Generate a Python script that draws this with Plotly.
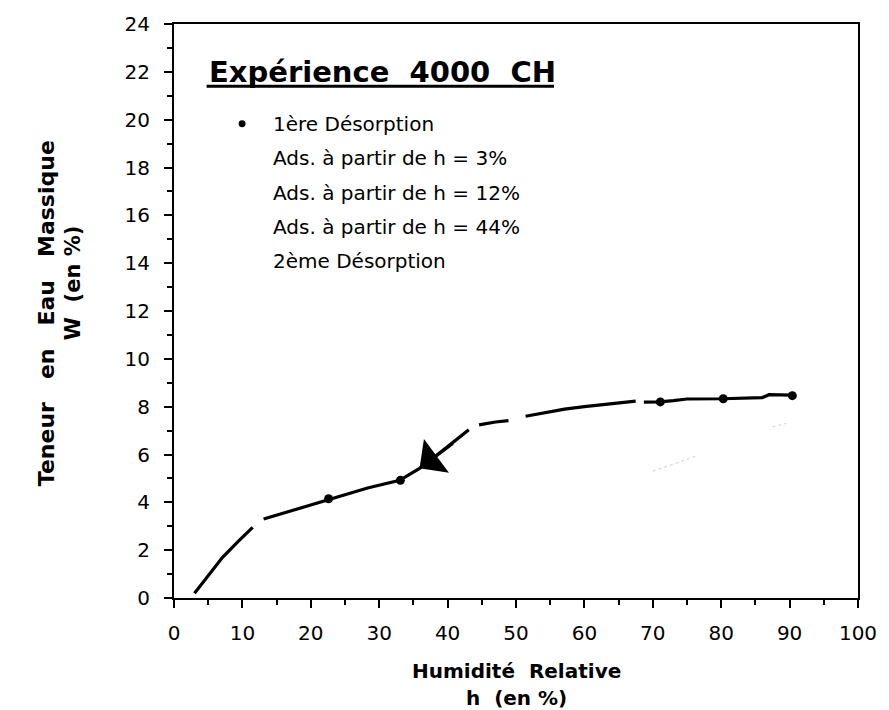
import plotly.graph_objects as go

# Sorption isotherm, experiment 4000 CH: relative humidity h (%) vs. mass water content W (%)
# First desorption curve (None marks the breaks in the traced line)
curve_h = [3.0, 5.0, 7.1, 9.5, 11.5, None,
           13.1, 15.5, 18.6, 22.8, 25.5, 28.3, 33.0, 35.9, 39.0, 43.1, None,
           44.6, 47.0, 48.9, None,
           51.4, 54.0, 57.1, 60.0, 63.3, 67.5, None,
           68.7, 71.0, 73.0, 75.0, 80.2, 86.0, 87.0, 90.3]
curve_w = [0.2, 0.95, 1.7, 2.4, 2.95, None,
           3.3, 3.5, 3.77, 4.14, 4.35, 4.6, 4.92, 5.42, 6.1, 7.03, None,
           7.24, 7.36, 7.42, None,
           7.6, 7.75, 7.9, 8.0, 8.1, 8.23, None,
           8.19, 8.2, 8.25, 8.32, 8.33, 8.38, 8.5, 8.48]

# Measured points of the first desorption
meas_h = [22.6, 33.1, 71.1, 80.3, 90.4]
meas_w = [4.15, 4.92, 8.2, 8.33, 8.46]

# Faint remains of an adsorption branch
ads_h = [70.0, 76.5, None, 87.5, 89.5]
ads_w = [5.3, 5.95, None, 7.15, 7.3]

# Direction arrow on the desorption curve (tail, head)
arrow_tail = (41.0, 6.5)
arrow_head = (35.9, 5.42)

x_ticks = [0, 10, 20, 30, 40, 50, 60, 70, 80, 90, 100]
y_ticks = [0, 2, 4, 6, 8, 10, 12, 14, 16, 18, 20, 22, 24]

legend_labels = ["1ère Désorption",
                 "Ads. à partir de h = 3%",
                 "Ads. à partir de h = 12%",
                 "Ads. à partir de h = 44%",
                 "2ème Désorption"]

NB2 = "\u00a0\u00a0"
NB3 = "\u00a0\u00a0\u00a0"
title_text = "Expérience" + NB2 + "4000" + NB2 + "CH"

FONT = "DejaVu Sans, Liberation Sans, Arial, sans-serif"
W, H = 889, 710
L, R, T, B = 174, 22, 17, 112
PW, PH = W - L - R, H - T - B


def px(x):
    return (x - L) / PW


def py(y):
    return (H - B - y) / PH


fig = go.Figure()

fig.add_trace(go.Scatter(x=ads_h, y=ads_w, mode="lines",
                         line=dict(color="#cfcfcf", width=1, dash="dot"),
                         hoverinfo="skip", showlegend=False))
fig.add_trace(go.Scatter(x=curve_h, y=curve_w, mode="lines",
                         line=dict(color="black", width=3.2),
                         connectgaps=False, showlegend=False))
fig.add_trace(go.Scatter(x=meas_h, y=meas_w, mode="markers",
                         marker=dict(color="black", size=9),
                         name=legend_labels[0], showlegend=False))

annotations = []
# direction arrow
annotations.append(dict(x=arrow_head[0], y=arrow_head[1], ax=arrow_tail[0], ay=arrow_tail[1],
                        xref="x", yref="y", axref="x", ayref="y", text="",
                        showarrow=True, arrowhead=1, arrowsize=2.8, arrowwidth=2.5,
                        arrowcolor="black"))
# title
annotations.append(dict(x=px(207), y=py(66), xref="paper", yref="paper",
                        xanchor="left", yanchor="middle", showarrow=False,
                        text="<b>" + title_text + "</b>",
                        font=dict(family=FONT, size=29, color="black")))
# legend text
rows = [118, 153, 188, 222, 257]
for lab, r in zip(legend_labels, rows):
    annotations.append(dict(x=px(272), y=py(r), xref="paper", yref="paper",
                            xanchor="left", yanchor="middle", showarrow=False,
                            text=lab, font=dict(family=FONT, size=20, color="black")))
# axis titles
annotations.append(dict(x=px(521), y=py(672), xref="paper", yref="paper",
                        xanchor="center", yanchor="middle", showarrow=False,
                        text="<b>Humidité" + NB2 + "Relative</b>",
                        font=dict(family=FONT, size=20, color="black")))
annotations.append(dict(x=px(521), y=py(699), xref="paper", yref="paper",
                        xanchor="center", yanchor="middle", showarrow=False,
                        text="<b>h" + NB2 + "(en %)</b>",
                        font=dict(family=FONT, size=20, color="black")))
annotations.append(dict(x=px(45), y=py(310), xref="paper", yref="paper",
                        xanchor="center", yanchor="middle", showarrow=False, textangle=-90,
                        text="<b>Teneur" + NB3 + "en" + NB3 + "Eau" + NB3 + "Massique</b>",
                        font=dict(family=FONT, size=22, color="black")))
annotations.append(dict(x=px(72), y=py(279), xref="paper", yref="paper",
                        xanchor="center", yanchor="middle", showarrow=False, textangle=-90,
                        text="<b>W" + NB2 + "(en %)</b>",
                        font=dict(family=FONT, size=21, color="black")))

shapes = [
    # title underline
    dict(type="line", xref="paper", yref="paper", x0=px(207), x1=px(559),
         y0=py(80), y1=py(80), line=dict(color="black", width=3)),
    # legend bullet
    dict(type="circle", xref="paper", yref="paper",
         x0=px(243 - 3.5), x1=px(243 + 3.5), y0=py(118 + 3.5), y1=py(118 - 3.5),
         fillcolor="black", line=dict(color="black", width=0)),
]

axis_common = dict(showline=True, linecolor="black", linewidth=2, mirror=True,
                   ticks="outside", ticklen=8, tickwidth=2, tickcolor="black",
                   showgrid=False, zeroline=False,
                   tickfont=dict(family=FONT, size=20, color="black"),
                   minor=dict(ticks="outside", ticklen=5, tickwidth=2, tickcolor="black"))

fig.update_layout(
    width=W, height=H,
    margin=dict(l=L, r=R, t=T, b=B),
    paper_bgcolor="white", plot_bgcolor="white",
    showlegend=False,
    xaxis=dict(range=[0, 100], tickvals=x_ticks, ticklabelstandoff=8, **axis_common),
    yaxis=dict(range=[0, 24], tickvals=y_ticks, ticklabelstandoff=10, **axis_common),
    annotations=annotations,
    shapes=shapes,
)
fig.update_xaxes(minor=dict(dtick=5, tick0=0))
fig.update_yaxes(minor=dict(dtick=1, tick0=0))

fig.write_html("out.html")
